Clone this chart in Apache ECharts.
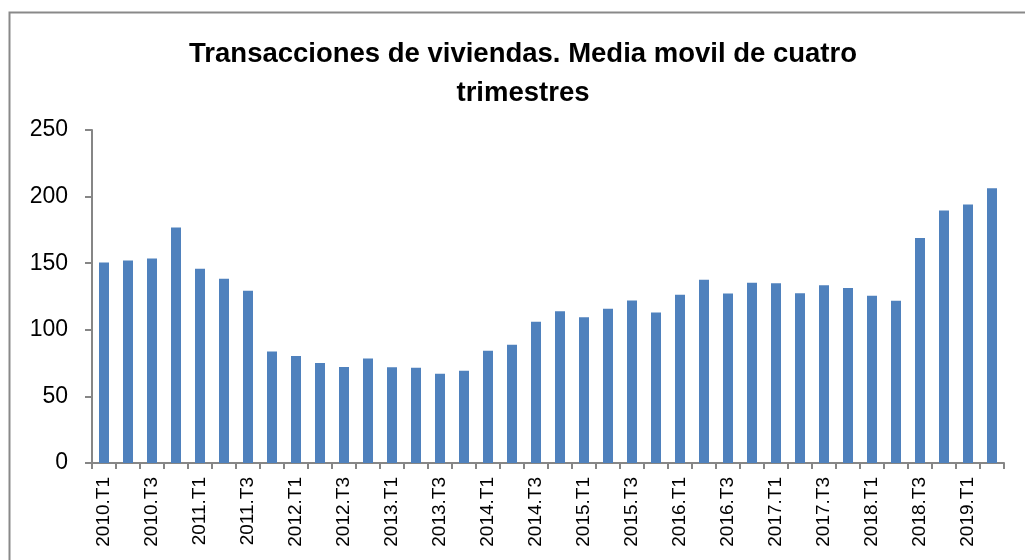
<!DOCTYPE html>
<html>
<head>
<meta charset="utf-8">
<script src="https://cdn.jsdelivr.net/npm/echarts@6/dist/echarts.min.js"></script>
<style>
html,body{margin:0;padding:0;background:#fff;}
#chart{width:1025px;height:560px;}
</style>
</head>
<body>
<div id="chart"></div>
<script>
const categories = [
  "2010.T1","2010.T2","2010.T3","2010.T4",
  "2011.T1","2011.T2","2011.T3","2011.T4",
  "2012.T1","2012.T2","2012.T3","2012.T4",
  "2013.T1","2013.T2","2013.T3","2013.T4",
  "2014.T1","2014.T2","2014.T3","2014.T4",
  "2015.T1","2015.T2","2015.T3","2015.T4",
  "2016.T1","2016.T2","2016.T3","2016.T4",
  "2017.T1","2017.T2","2017.T3","2017.T4",
  "2018.T1","2018.T2","2018.T3","2018.T4",
  "2019.T1","2019.T2"
];
const values = [
  150.5, 152, 153.5, 176.8,
  145.8, 138.3, 129.3, 83.8,
  80.3, 75, 72, 78.5,
  71.8, 71.5, 67, 69.3,
  84.3, 88.8, 106, 114,
  109.5, 115.8, 122, 113,
  126.3, 137.5, 127.3, 135.3,
  135, 127.5, 133.5, 131.3,
  125.5, 121.8, 169, 189.5,
  194, 206.3
];
const titleText = "Transacciones de viviendas. Media movil de cuatro\ntrimestres";
const yTicks = [0, 50, 100, 150, 200, 250];

const chart = echarts.init(document.getElementById('chart'), null, {renderer: 'canvas'});
chart.setOption({
  animation: false,
  backgroundColor: '#ffffff',
  graphic: [{
    type: 'rect',
    left: 7, top: 10,
    shape: {width: 1040, height: 580},
    style: {fill: 'none', stroke: '#898989', lineWidth: 2},
    silent: true
  }],
  title: {
    text: titleText,
    left: 518,
    top: 30,
    textAlign: 'center',
    textStyle: {
      fontFamily: 'Liberation Sans',
      fontWeight: 'bold',
      fontSize: 27.5,
      lineHeight: 39,
      color: '#000000'
    }
  },
  grid: {left: 92, right: 21, top: 130, bottom: 97, containLabel: false},
  xAxis: {
    type: 'category',
    data: categories,
    boundaryGap: true,
    axisLine: {show: true, lineStyle: {color: '#868686', width: 2}},
    axisTick: {show: true, interval: 0, length: 6, lineStyle: {color: '#868686', width: 2}},
    axisLabel: {
      interval: 1,
      rotate: 90,
      margin: 14,
      fontFamily: 'Liberation Sans',
      fontSize: 19,
      color: '#000000'
    }
  },
  yAxis: {
    type: 'value',
    min: yTicks[0],
    max: yTicks[yTicks.length - 1],
    interval: 50,
    splitLine: {show: false},
    axisLine: {show: true, lineStyle: {color: '#868686', width: 2}},
    axisTick: {show: true, length: 7, lineStyle: {color: '#868686', width: 2}},
    axisLabel: {
      margin: 24,
      fontFamily: 'Liberation Sans',
      fontSize: 23,
      color: '#000000'
    }
  },
  series: [{
    type: 'bar',
    data: values,
    barWidth: 10,
    itemStyle: {color: '#4F81BD'}
  }]
});
</script>
</body>
</html>
